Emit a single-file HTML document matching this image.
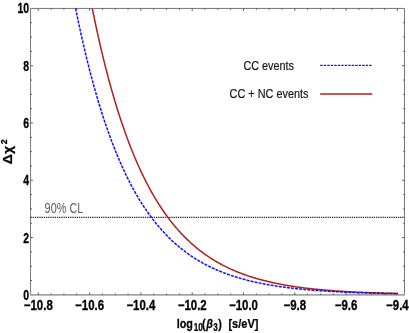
<!DOCTYPE html>
<html><head><meta charset="utf-8"><style>
html,body{margin:0;padding:0;background:#fff;}
svg{display:block;font-family:"Liberation Sans",sans-serif;will-change:transform;}
</style></head><body>
<svg width="409" height="333" viewBox="0 0 409 333">
<rect width="409" height="333" fill="#fff"/>
<path d="M30.55,294.85 V8.45 H404.5 V294.85" fill="none" stroke="#787878" stroke-width="1" stroke-linecap="square"/>
<line x1="30.05" y1="294.85" x2="405.0" y2="294.85" stroke="#a4a4a4" stroke-width="1.7"/>
<g stroke="#484848" stroke-width="0.9"><line x1="38.30" y1="294.85" x2="38.30" y2="292.45000000000005"/><line x1="38.30" y1="8.45" x2="38.30" y2="10.85"/><line x1="51.13" y1="294.85" x2="51.13" y2="293.45000000000005"/><line x1="51.13" y1="8.45" x2="51.13" y2="9.85"/><line x1="63.95" y1="294.85" x2="63.95" y2="293.45000000000005"/><line x1="63.95" y1="8.45" x2="63.95" y2="9.85"/><line x1="76.78" y1="294.85" x2="76.78" y2="293.45000000000005"/><line x1="76.78" y1="8.45" x2="76.78" y2="9.85"/><line x1="89.60" y1="294.85" x2="89.60" y2="292.45000000000005"/><line x1="89.60" y1="8.45" x2="89.60" y2="10.85"/><line x1="102.42" y1="294.85" x2="102.42" y2="293.45000000000005"/><line x1="102.42" y1="8.45" x2="102.42" y2="9.85"/><line x1="115.25" y1="294.85" x2="115.25" y2="293.45000000000005"/><line x1="115.25" y1="8.45" x2="115.25" y2="9.85"/><line x1="128.07" y1="294.85" x2="128.07" y2="293.45000000000005"/><line x1="128.07" y1="8.45" x2="128.07" y2="9.85"/><line x1="140.90" y1="294.85" x2="140.90" y2="292.45000000000005"/><line x1="140.90" y1="8.45" x2="140.90" y2="10.85"/><line x1="153.72" y1="294.85" x2="153.72" y2="293.45000000000005"/><line x1="153.72" y1="8.45" x2="153.72" y2="9.85"/><line x1="166.55" y1="294.85" x2="166.55" y2="293.45000000000005"/><line x1="166.55" y1="8.45" x2="166.55" y2="9.85"/><line x1="179.38" y1="294.85" x2="179.38" y2="293.45000000000005"/><line x1="179.38" y1="8.45" x2="179.38" y2="9.85"/><line x1="192.20" y1="294.85" x2="192.20" y2="292.45000000000005"/><line x1="192.20" y1="8.45" x2="192.20" y2="10.85"/><line x1="205.03" y1="294.85" x2="205.03" y2="293.45000000000005"/><line x1="205.03" y1="8.45" x2="205.03" y2="9.85"/><line x1="217.85" y1="294.85" x2="217.85" y2="293.45000000000005"/><line x1="217.85" y1="8.45" x2="217.85" y2="9.85"/><line x1="230.68" y1="294.85" x2="230.68" y2="293.45000000000005"/><line x1="230.68" y1="8.45" x2="230.68" y2="9.85"/><line x1="243.50" y1="294.85" x2="243.50" y2="292.45000000000005"/><line x1="243.50" y1="8.45" x2="243.50" y2="10.85"/><line x1="256.32" y1="294.85" x2="256.32" y2="293.45000000000005"/><line x1="256.32" y1="8.45" x2="256.32" y2="9.85"/><line x1="269.15" y1="294.85" x2="269.15" y2="293.45000000000005"/><line x1="269.15" y1="8.45" x2="269.15" y2="9.85"/><line x1="281.97" y1="294.85" x2="281.97" y2="293.45000000000005"/><line x1="281.97" y1="8.45" x2="281.97" y2="9.85"/><line x1="294.80" y1="294.85" x2="294.80" y2="292.45000000000005"/><line x1="294.80" y1="8.45" x2="294.80" y2="10.85"/><line x1="307.63" y1="294.85" x2="307.63" y2="293.45000000000005"/><line x1="307.63" y1="8.45" x2="307.63" y2="9.85"/><line x1="320.45" y1="294.85" x2="320.45" y2="293.45000000000005"/><line x1="320.45" y1="8.45" x2="320.45" y2="9.85"/><line x1="333.28" y1="294.85" x2="333.28" y2="293.45000000000005"/><line x1="333.28" y1="8.45" x2="333.28" y2="9.85"/><line x1="346.10" y1="294.85" x2="346.10" y2="292.45000000000005"/><line x1="346.10" y1="8.45" x2="346.10" y2="10.85"/><line x1="358.93" y1="294.85" x2="358.93" y2="293.45000000000005"/><line x1="358.93" y1="8.45" x2="358.93" y2="9.85"/><line x1="371.75" y1="294.85" x2="371.75" y2="293.45000000000005"/><line x1="371.75" y1="8.45" x2="371.75" y2="9.85"/><line x1="384.57" y1="294.85" x2="384.57" y2="293.45000000000005"/><line x1="384.57" y1="8.45" x2="384.57" y2="9.85"/><line x1="397.40" y1="294.85" x2="397.40" y2="292.45000000000005"/><line x1="397.40" y1="8.45" x2="397.40" y2="10.85"/><line x1="30.55" y1="280.53" x2="31.95" y2="280.53"/><line x1="404.5" y1="280.53" x2="403.1" y2="280.53"/><line x1="30.55" y1="266.21" x2="31.95" y2="266.21"/><line x1="404.5" y1="266.21" x2="403.1" y2="266.21"/><line x1="30.55" y1="251.89" x2="31.95" y2="251.89"/><line x1="404.5" y1="251.89" x2="403.1" y2="251.89"/><line x1="30.55" y1="237.57" x2="32.95" y2="237.57"/><line x1="404.5" y1="237.57" x2="402.1" y2="237.57"/><line x1="30.55" y1="223.25" x2="31.95" y2="223.25"/><line x1="404.5" y1="223.25" x2="403.1" y2="223.25"/><line x1="30.55" y1="208.93" x2="31.95" y2="208.93"/><line x1="404.5" y1="208.93" x2="403.1" y2="208.93"/><line x1="30.55" y1="194.61" x2="31.95" y2="194.61"/><line x1="404.5" y1="194.61" x2="403.1" y2="194.61"/><line x1="30.55" y1="180.29" x2="32.95" y2="180.29"/><line x1="404.5" y1="180.29" x2="402.1" y2="180.29"/><line x1="30.55" y1="165.97" x2="31.95" y2="165.97"/><line x1="404.5" y1="165.97" x2="403.1" y2="165.97"/><line x1="30.55" y1="151.65" x2="31.95" y2="151.65"/><line x1="404.5" y1="151.65" x2="403.1" y2="151.65"/><line x1="30.55" y1="137.33" x2="31.95" y2="137.33"/><line x1="404.5" y1="137.33" x2="403.1" y2="137.33"/><line x1="30.55" y1="123.01" x2="32.95" y2="123.01"/><line x1="404.5" y1="123.01" x2="402.1" y2="123.01"/><line x1="30.55" y1="108.69" x2="31.95" y2="108.69"/><line x1="404.5" y1="108.69" x2="403.1" y2="108.69"/><line x1="30.55" y1="94.37" x2="31.95" y2="94.37"/><line x1="404.5" y1="94.37" x2="403.1" y2="94.37"/><line x1="30.55" y1="80.05" x2="31.95" y2="80.05"/><line x1="404.5" y1="80.05" x2="403.1" y2="80.05"/><line x1="30.55" y1="65.73" x2="32.95" y2="65.73"/><line x1="404.5" y1="65.73" x2="402.1" y2="65.73"/><line x1="30.55" y1="51.41" x2="31.95" y2="51.41"/><line x1="404.5" y1="51.41" x2="403.1" y2="51.41"/><line x1="30.55" y1="37.09" x2="31.95" y2="37.09"/><line x1="404.5" y1="37.09" x2="403.1" y2="37.09"/><line x1="30.55" y1="22.77" x2="31.95" y2="22.77"/><line x1="404.5" y1="22.77" x2="403.1" y2="22.77"/></g>
<line x1="30.55" y1="217.45" x2="404.5" y2="217.45" stroke="#262626" stroke-width="1.25" stroke-dasharray="1.3,0.9"/>
<path d="M92.27,8.47 L93.29,13.49 L94.32,18.42 L95.34,23.26 L96.36,28.02 L97.38,32.69 L98.41,37.28 L99.43,41.79 L100.45,46.22 L101.47,50.58 L102.50,54.85 L103.52,59.06 L104.54,63.18 L105.56,67.24 L106.59,71.22 L107.61,75.14 L108.63,78.98 L109.65,82.76 L110.68,86.47 L111.70,90.12 L112.72,93.70 L113.74,97.22 L114.77,100.68 L115.79,104.08 L116.81,107.42 L117.83,110.70 L118.86,113.92 L119.88,117.09 L120.90,120.20 L121.92,123.25 L122.95,126.26 L123.97,129.21 L124.99,132.10 L126.01,134.95 L127.04,137.75 L128.06,140.50 L129.08,143.20 L130.10,145.86 L131.13,148.47 L132.15,151.03 L133.17,153.55 L134.19,156.02 L135.22,158.45 L136.24,160.84 L137.26,163.19 L138.28,165.49 L139.31,167.76 L140.33,169.98 L141.35,172.17 L142.37,174.32 L143.40,176.43 L144.42,178.51 L145.44,180.55 L146.46,182.55 L147.49,184.52 L148.51,186.46 L149.53,188.36 L150.55,190.22 L151.58,192.06 L152.60,193.86 L153.62,195.63 L154.64,197.38 L155.67,199.09 L156.69,200.77 L157.71,202.42 L158.73,204.04 L159.76,205.64 L160.78,207.20 L161.80,208.74 L162.82,210.26 L163.85,211.74 L164.87,213.20 L165.89,214.64 L166.91,216.05 L167.94,217.44 L168.96,218.80 L169.98,220.14 L171.00,221.45 L172.03,222.74 L173.05,224.01 L174.07,225.26 L175.09,226.49 L176.12,227.69 L177.14,228.88 L178.16,230.04 L179.18,231.18 L180.21,232.30 L181.23,233.41 L182.25,234.49 L183.27,235.56 L184.30,236.60 L185.32,237.63 L186.34,238.64 L187.36,239.64 L188.39,240.61 L189.41,241.57 L190.43,242.51 L191.45,243.44 L192.48,244.35 L193.50,245.24 L194.52,246.12 L195.54,246.98 L196.57,247.83 L197.59,248.67 L198.61,249.48 L199.63,250.29 L200.66,251.08 L201.68,251.85 L202.70,252.62 L203.72,253.37 L204.75,254.10 L205.77,254.83 L206.79,255.54 L207.81,256.24 L208.84,256.92 L209.86,257.60 L210.88,258.26 L211.90,258.91 L212.93,259.55 L213.95,260.18 L214.97,260.80 L215.99,261.41 L217.02,262.00 L218.04,262.59 L219.06,263.16 L220.08,263.73 L221.11,264.28 L222.13,264.83 L223.15,265.37 L224.17,265.89 L225.20,266.41 L226.22,266.92 L227.24,267.42 L228.26,267.91 L229.29,268.39 L230.31,268.86 L231.33,269.33 L232.35,269.79 L233.38,270.24 L234.40,270.68 L235.42,271.11 L236.44,271.54 L237.47,271.96 L238.49,272.37 L239.51,272.77 L240.53,273.17 L241.56,273.56 L242.58,273.94 L243.60,274.32 L244.62,274.68 L245.65,275.05 L246.67,275.40 L247.69,275.75 L248.71,276.10 L249.74,276.44 L250.76,276.77 L251.78,277.09 L252.80,277.41 L253.83,277.73 L254.85,278.04 L255.87,278.34 L256.89,278.64 L257.92,278.93 L258.94,279.22 L259.96,279.50 L260.98,279.78 L262.01,280.05 L263.03,280.32 L264.05,280.58 L265.07,280.84 L266.10,281.09 L267.12,281.34 L268.14,281.59 L269.16,281.83 L270.19,282.06 L271.21,282.30 L272.23,282.52 L273.25,282.75 L274.28,282.97 L275.30,283.18 L276.32,283.39 L277.34,283.60 L278.37,283.81 L279.39,284.01 L280.41,284.20 L281.43,284.40 L282.46,284.59 L283.48,284.77 L284.50,284.96 L285.52,285.14 L286.55,285.31 L287.57,285.49 L288.59,285.66 L289.61,285.82 L290.64,285.99 L291.66,286.15 L292.68,286.31 L293.70,286.46 L294.73,286.62 L295.75,286.77 L296.77,286.91 L297.79,287.06 L298.82,287.20 L299.84,287.34 L300.86,287.48 L301.88,287.61 L302.91,287.74 L303.93,287.87 L304.95,288.00 L305.97,288.12 L307.00,288.24 L308.02,288.37 L309.04,288.48 L310.06,288.60 L311.09,288.71 L312.11,288.82 L313.13,288.93 L314.15,289.04 L315.18,289.15 L316.20,289.25 L317.22,289.35 L318.24,289.45 L319.27,289.55 L320.29,289.65 L321.31,289.74 L322.33,289.83 L323.36,289.92 L324.38,290.01 L325.40,290.10 L326.42,290.19 L327.45,290.27 L328.47,290.35 L329.49,290.43 L330.51,290.51 L331.54,290.59 L332.56,290.67 L333.58,290.75 L334.60,290.82 L335.63,290.89 L336.65,290.96 L337.67,291.03 L338.69,291.10 L339.72,291.17 L340.74,291.23 L341.76,291.30 L342.78,291.36 L343.81,291.43 L344.83,291.49 L345.85,291.55 L346.87,291.61 L347.90,291.66 L348.92,291.72 L349.94,291.78 L350.96,291.83 L351.99,291.88 L353.01,291.94 L354.03,291.99 L355.05,292.04 L356.08,292.09 L357.10,292.14 L358.12,292.18 L359.14,292.23 L360.17,292.28 L361.19,292.32 L362.21,292.37 L363.23,292.41 L364.26,292.45 L365.28,292.49 L366.30,292.53 L367.32,292.57 L368.35,292.61 L369.37,292.65 L370.39,292.69 L371.41,292.73 L372.44,292.76 L373.46,292.80 L374.48,292.83 L375.50,292.87 L376.53,292.90 L377.55,292.93 L378.57,292.97 L379.59,293.00 L380.62,293.03 L381.64,293.06 L382.66,293.09 L383.68,293.12 L384.71,293.15 L385.73,293.18 L386.75,293.20 L387.77,293.23 L388.80,293.26 L389.82,293.28 L390.84,293.31 L391.86,293.33 L392.89,293.36 L393.91,293.38 L394.93,293.41 L395.95,293.43 L396.98,293.45 L398.00,293.47" fill="none" stroke="#b21f1f" stroke-width="1.5"/>
<path d="M75.61,8.46 L76.69,13.75 L77.77,18.95 L78.84,24.05 L79.92,29.05 L81.00,33.97 L82.08,38.79 L83.16,43.52 L84.24,48.16 L85.31,52.71 L86.39,57.18 L87.47,61.57 L88.55,65.88 L89.63,70.10 L90.71,74.25 L91.78,78.32 L92.86,82.32 L93.94,86.24 L95.02,90.09 L96.10,93.86 L97.17,97.57 L98.25,101.21 L99.33,104.78 L100.41,108.28 L101.49,111.72 L102.57,115.10 L103.64,118.41 L104.72,121.66 L105.80,124.85 L106.88,127.99 L107.96,131.06 L109.04,134.08 L110.11,137.04 L111.19,139.95 L112.27,142.80 L113.35,145.60 L114.43,148.35 L115.50,151.05 L116.58,153.70 L117.66,156.30 L118.74,158.85 L119.82,161.36 L120.90,163.82 L121.97,166.23 L123.05,168.60 L124.13,170.92 L125.21,173.21 L126.29,175.45 L127.36,177.65 L128.44,179.80 L129.52,181.92 L130.60,184.00 L131.68,186.04 L132.76,188.05 L133.83,190.02 L134.91,191.95 L135.99,193.84 L137.07,195.70 L138.15,197.53 L139.23,199.32 L140.30,201.08 L141.38,202.81 L142.46,204.51 L143.54,206.17 L144.62,207.81 L145.69,209.41 L146.77,210.98 L147.85,212.53 L148.93,214.05 L150.01,215.54 L151.09,217.00 L152.16,218.43 L153.24,219.84 L154.32,221.23 L155.40,222.58 L156.48,223.92 L157.56,225.23 L158.63,226.51 L159.71,227.77 L160.79,229.01 L161.87,230.22 L162.95,231.42 L164.02,232.59 L165.10,233.74 L166.18,234.86 L167.26,235.97 L168.34,237.06 L169.42,238.13 L170.49,239.17 L171.57,240.20 L172.65,241.21 L173.73,242.20 L174.81,243.18 L175.89,244.13 L176.96,245.07 L178.04,245.99 L179.12,246.89 L180.20,247.78 L181.28,248.65 L182.35,249.50 L183.43,250.34 L184.51,251.17 L185.59,251.98 L186.67,252.77 L187.75,253.55 L188.82,254.31 L189.90,255.06 L190.98,255.80 L192.06,256.52 L193.14,257.23 L194.22,257.93 L195.29,258.62 L196.37,259.29 L197.45,259.95 L198.53,260.59 L199.61,261.23 L200.68,261.85 L201.76,262.47 L202.84,263.07 L203.92,263.66 L205.00,264.24 L206.08,264.80 L207.15,265.36 L208.23,265.91 L209.31,266.45 L210.39,266.97 L211.47,267.49 L212.54,268.00 L213.62,268.50 L214.70,268.99 L215.78,269.47 L216.86,269.94 L217.94,270.41 L219.01,270.86 L220.09,271.31 L221.17,271.75 L222.25,272.18 L223.33,272.60 L224.41,273.01 L225.48,273.42 L226.56,273.82 L227.64,274.21 L228.72,274.59 L229.80,274.97 L230.87,275.34 L231.95,275.71 L233.03,276.06 L234.11,276.41 L235.19,276.76 L236.27,277.09 L237.34,277.43 L238.42,277.75 L239.50,278.07 L240.58,278.38 L241.66,278.69 L242.74,278.99 L243.81,279.29 L244.89,279.58 L245.97,279.86 L247.05,280.14 L248.13,280.42 L249.20,280.69 L250.28,280.95 L251.36,281.21 L252.44,281.47 L253.52,281.72 L254.60,281.96 L255.67,282.20 L256.75,282.44 L257.83,282.67 L258.91,282.90 L259.99,283.12 L261.07,283.34 L262.14,283.56 L263.22,283.77 L264.30,283.98 L265.38,284.18 L266.46,284.38 L267.53,284.57 L268.61,284.77 L269.69,284.95 L270.77,285.14 L271.85,285.32 L272.93,285.50 L274.00,285.67 L275.08,285.84 L276.16,286.01 L277.24,286.18 L278.32,286.34 L279.39,286.50 L280.47,286.66 L281.55,286.81 L282.63,286.96 L283.71,287.11 L284.79,287.25 L285.86,287.39 L286.94,287.53 L288.02,287.67 L289.10,287.80 L290.18,287.93 L291.26,288.06 L292.33,288.19 L293.41,288.31 L294.49,288.43 L295.57,288.55 L296.65,288.67 L297.72,288.79 L298.80,288.90 L299.88,289.01 L300.96,289.12 L302.04,289.22 L303.12,289.33 L304.19,289.43 L305.27,289.53 L306.35,289.63 L307.43,289.73 L308.51,289.82 L309.59,289.91 L310.66,290.01 L311.74,290.09 L312.82,290.18 L313.90,290.27 L314.98,290.35 L316.05,290.44 L317.13,290.52 L318.21,290.60 L319.29,290.67 L320.37,290.75 L321.45,290.83 L322.52,290.90 L323.60,290.97 L324.68,291.04 L325.76,291.11 L326.84,291.18 L327.92,291.25 L328.99,291.31 L330.07,291.38 L331.15,291.44 L332.23,291.50 L333.31,291.56 L334.38,291.62 L335.46,291.68 L336.54,291.74 L337.62,291.79 L338.70,291.85 L339.78,291.90 L340.85,291.96 L341.93,292.01 L343.01,292.06 L344.09,292.11 L345.17,292.16 L346.25,292.21 L347.32,292.25 L348.40,292.30 L349.48,292.34 L350.56,292.39 L351.64,292.43 L352.71,292.47 L353.79,292.52 L354.87,292.56 L355.95,292.60 L357.03,292.64 L358.11,292.67 L359.18,292.71 L360.26,292.75 L361.34,292.79 L362.42,292.82 L363.50,292.86 L364.57,292.89 L365.65,292.92 L366.73,292.96 L367.81,292.99 L368.89,293.02 L369.97,293.05 L371.04,293.08 L372.12,293.11 L373.20,293.14 L374.28,293.17 L375.36,293.20 L376.44,293.22 L377.51,293.25 L378.59,293.28 L379.67,293.30 L380.75,293.33 L381.83,293.35 L382.90,293.38 L383.98,293.40 L385.06,293.42 L386.14,293.45 L387.22,293.47 L388.30,293.49 L389.37,293.51 L390.45,293.53 L391.53,293.55 L392.61,293.57 L393.69,293.59 L394.77,293.61 L395.84,293.63 L396.92,293.65 L398.00,293.67" fill="none" stroke="#1010ff" stroke-width="1.5" stroke-dasharray="3.0,1.1"/>
<g font-weight="bold" fill="#000" stroke="#000" stroke-width="0.3"><text transform="translate(38.30,309.80) scale(0.83,1)" text-anchor="middle" font-size="13.8" >−10.8</text><text transform="translate(89.60,309.80) scale(0.83,1)" text-anchor="middle" font-size="13.8" >−10.6</text><text transform="translate(140.90,309.80) scale(0.83,1)" text-anchor="middle" font-size="13.8" >−10.4</text><text transform="translate(192.20,309.80) scale(0.83,1)" text-anchor="middle" font-size="13.8" >−10.2</text><text transform="translate(243.50,309.80) scale(0.83,1)" text-anchor="middle" font-size="13.8" >−10.0</text><text transform="translate(294.80,309.80) scale(0.83,1)" text-anchor="middle" font-size="13.8" >−9.8</text><text transform="translate(346.10,309.80) scale(0.83,1)" text-anchor="middle" font-size="13.8" >−9.6</text><text transform="translate(397.40,309.80) scale(0.83,1)" text-anchor="middle" font-size="13.8" >−9.4</text><text transform="translate(29.15,300.45) scale(0.74,1)" text-anchor="end" font-size="14.2" >0</text><text transform="translate(29.15,242.97) scale(0.74,1)" text-anchor="end" font-size="14.2" >2</text><text transform="translate(29.15,185.49) scale(0.74,1)" text-anchor="end" font-size="14.2" >4</text><text transform="translate(29.15,128.01) scale(0.74,1)" text-anchor="end" font-size="14.2" >6</text><text transform="translate(29.15,70.53) scale(0.74,1)" text-anchor="end" font-size="14.2" >8</text><text transform="translate(29.15,13.05) scale(0.74,1)" text-anchor="end" font-size="14.2" >10</text></g>
<text transform="translate(44.60,213.30) scale(0.79,1)" font-size="13.8" fill="#5c5c5c">90% CL</text>
<text transform="translate(243.40,70.10) scale(0.815,1)" font-size="13.3" fill="#111" stroke="#111" stroke-width="0.18">CC events</text>
<text transform="translate(229.60,98.20) scale(0.818,1)" font-size="13.3" fill="#111" stroke="#111" stroke-width="0.18">CC + NC events</text>
<line x1="320.2" y1="65.3" x2="372.2" y2="65.3" stroke="#1010ff" stroke-width="1.3" stroke-dasharray="2.4,1.1"/>
<line x1="320.2" y1="94.0" x2="372.2" y2="94.0" stroke="#b21f1f" stroke-width="1.6"/>
<g font-weight="bold" fill="#000" stroke="#000" stroke-width="0.25">
<text transform="translate(176.70,327.90) scale(0.8,1)" font-size="13.5" >log</text><text transform="translate(193.80,330.90) scale(0.817,1)" font-size="10" >10</text><text transform="translate(202.10,327.90) scale(0.8,1)" font-size="13.5" >(</text><text transform="translate(206.20,327.90) scale(0.8,1)" font-size="13.5" font-style="italic">β</text><text transform="translate(213.30,330.90) scale(0.817,1)" font-size="10" >3</text><text transform="translate(218.30,327.90) scale(0.8,1)" font-size="13.5" >)</text><text transform="translate(228.45,327.90) scale(0.817,1)" font-size="13.5" >[s/eV]</text>
<text transform="translate(12.0,164.27) rotate(-90) scale(1.04,0.926)" font-size="13.5">Δ</text><text transform="translate(12.0,153.9) rotate(-90) scale(1.04,0.926)" font-size="13.5">χ</text><text transform="translate(6.9,144.2) rotate(-90)" font-size="8.8">2</text>
</g>
</svg>
</body></html>
